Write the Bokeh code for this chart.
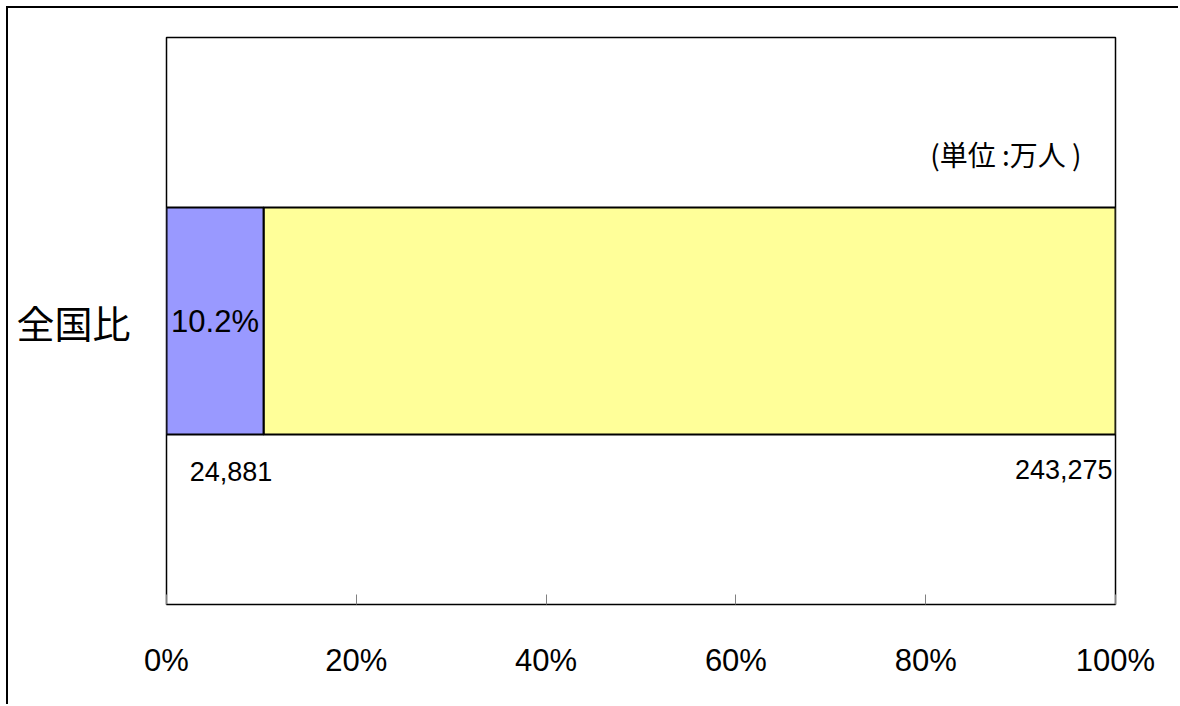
from bokeh.plotting import figure
from bokeh.models import Range1d, FixedTicker, ColumnDataSource
from bokeh.core.properties import value
from bokeh.embed import file_html
from bokeh.resources import INLINE

# ---- data ----
category = ["全国比"]
region_value = [24881]
national_value = [243275]
x_ticks = [0, 0.2, 0.4, 0.6, 0.8, 1.0]
x_tick_labels = ["0%", "20%", "40%", "60%", "80%", "100%"]
unit_label = "(単位 :万人 )"

share = region_value[0] / national_value[0]

NUM_FONT = "Liberation Sans"
CJK_FONT = "Noto Sans CJK JP"

p = figure(width=1172, height=698, output_backend="svg", toolbar_location=None,
           x_range=Range1d(0, 1), y_range=Range1d(0, 1),
           min_border_left=158, min_border_top=29, min_border_right=65, min_border_bottom=102)
p.styles = {"margin-left": "6px", "margin-top": "6px",
            "border-left": "2px solid black", "border-top": "2px solid black"}

p.outline_line_color = "black"
p.outline_line_width = 1.5
p.xgrid.visible = False
p.ygrid.visible = False
p.background_fill_color = "white"
p.border_fill_color = "white"

bar_y = 0.5
bar_h = 0.4
src = ColumnDataSource(dict(y=[bar_y], left_b=[0], right_b=[share], left_y=[share], right_y=[1.0]))
p.hbar(y="y", left="left_y", right="right_y", height=bar_h, source=src,
       fill_color="#FFFF99", line_color="black", line_width=2)
p.hbar(y="y", left="left_b", right="right_b", height=bar_h, source=src,
       fill_color="#9999FF", line_color="black", line_width=2)

# x axis
xa = p.xaxis[0]
xa.ticker = FixedTicker(ticks=x_ticks)
xa.major_label_overrides = {t: l for t, l in zip(x_ticks, x_tick_labels)}
xa.major_label_text_font = NUM_FONT
xa.major_label_text_font_size = "31px"
xa.major_label_text_color = "black"
xa.major_label_standoff = 38
xa.axis_line_color = None
xa.major_tick_in = 10
xa.major_tick_out = 0
xa.major_tick_line_color = "#808080"
xa.minor_tick_line_color = None

# y axis
ya = p.yaxis[0]
ya.ticker = FixedTicker(ticks=[bar_y])
ya.major_label_overrides = {bar_y: category[0]}
ya.major_label_text_font = CJK_FONT
ya.major_label_text_font_size = "38px"
ya.major_label_text_color = "black"
ya.major_label_standoff = 30
ya.axis_line_color = None
ya.major_tick_line_color = None
ya.minor_tick_line_color = None

# labels
p.text(x=[share / 2], y=[bar_y], text=[f"{share*100:.1f}%"], text_font=value(NUM_FONT),
       text_font_size="31px", text_align="center", text_baseline="middle", y_offset=0)
p.text(x=[share / 2], y=[bar_y - bar_h / 2], text=[f"{region_value[0]:,}"], text_font=value(NUM_FONT),
       text_font_size="27px", text_align="center", text_baseline="middle", x_offset=16, y_offset=37)
p.text(x=[1.0], y=[bar_y - bar_h / 2], text=[f"{national_value[0]:,}"], text_font=value(NUM_FONT),
       text_font_size="27px", text_align="right", text_baseline="middle", x_offset=-3, y_offset=35)
p.text(x=[1.0], y=[bar_y + bar_h / 2], text=[unit_label], text_font=value(CJK_FONT),
       text_font_size="28px", text_align="right", text_baseline="middle", x_offset=-34, y_offset=-54)

open("out.html", "w").write(file_html(p, INLINE))
